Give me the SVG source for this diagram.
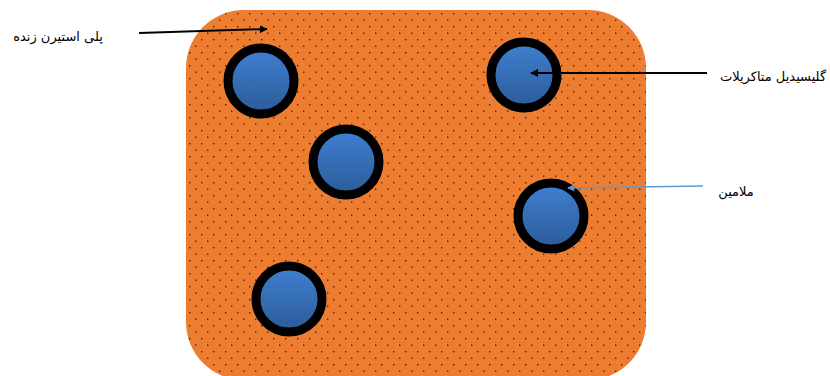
<svg xmlns="http://www.w3.org/2000/svg" width="830" height="376" viewBox="0 0 830 376">
<defs>
<pattern id="dots" x="186" y="10" width="12" height="13" patternUnits="userSpaceOnUse">
<rect width="12" height="13" fill="#ed7d31"/>
<rect x="3" y="3" width="1.4" height="1.4" fill="#4a2410"/>
<rect x="9" y="9.5" width="1.4" height="1.4" fill="#4a2410"/>
</pattern>
<linearGradient id="blue" x1="0" y1="0" x2="0" y2="1">
<stop offset="0" stop-color="#3f80d2"/>
<stop offset="1" stop-color="#2c5b98"/>
</linearGradient>
<marker id="ab" viewBox="0 0 10 10" refX="9" refY="5" markerWidth="4" markerHeight="4" orient="auto" markerUnits="strokeWidth">
<path d="M0,0 L10,5 L0,10 z" fill="#000"/>
</marker>
<marker id="abl" viewBox="0 0 10 10" refX="9" refY="5" markerWidth="4.5" markerHeight="4.5" orient="auto" markerUnits="strokeWidth">
<path d="M0,0 L10,5 L0,10 z" fill="#5b9bd5"/>
</marker>
</defs>
<style>
.ring{fill:url(#blue);stroke:#000;stroke-width:9}
.lbl{font-family:"DejaVu Sans","Noto Sans",sans-serif;font-size:13px;fill:#000}
</style>
<g id="matrix"><rect x="186" y="10" width="460" height="370" rx="58" fill="url(#dots)"/></g>
<g id="p1"><circle class="ring" cx="261" cy="81" r="33"/></g>
<g id="p2"><circle class="ring" cx="524" cy="75" r="33"/></g>
<g id="p3"><circle class="ring" cx="346" cy="162" r="33"/></g>
<g id="p4"><circle class="ring" cx="551" cy="216" r="33"/></g>
<g id="p5"><circle class="ring" cx="289" cy="299" r="33"/></g>
<g id="connectors">
<line x1="139" y1="33" x2="267" y2="29" stroke="#000" stroke-width="2" marker-end="url(#ab)"/>
<line x1="707" y1="73" x2="531" y2="73" stroke="#000" stroke-width="2" marker-end="url(#ab)"/>
<line x1="703" y1="186" x2="568" y2="188" stroke="#5b9bd5" stroke-width="1.6" marker-end="url(#abl)"/>
</g>
<g id="labels">
<text class="lbl" x="58" y="41" text-anchor="middle" direction="rtl">پلی استیرن زنده</text>
<text class="lbl" x="773" y="81" text-anchor="middle" direction="rtl">گلیسیدیل متاکریلات</text>
<text class="lbl" x="736" y="196" text-anchor="middle" direction="rtl">ملامین</text>
</g>
</svg>
